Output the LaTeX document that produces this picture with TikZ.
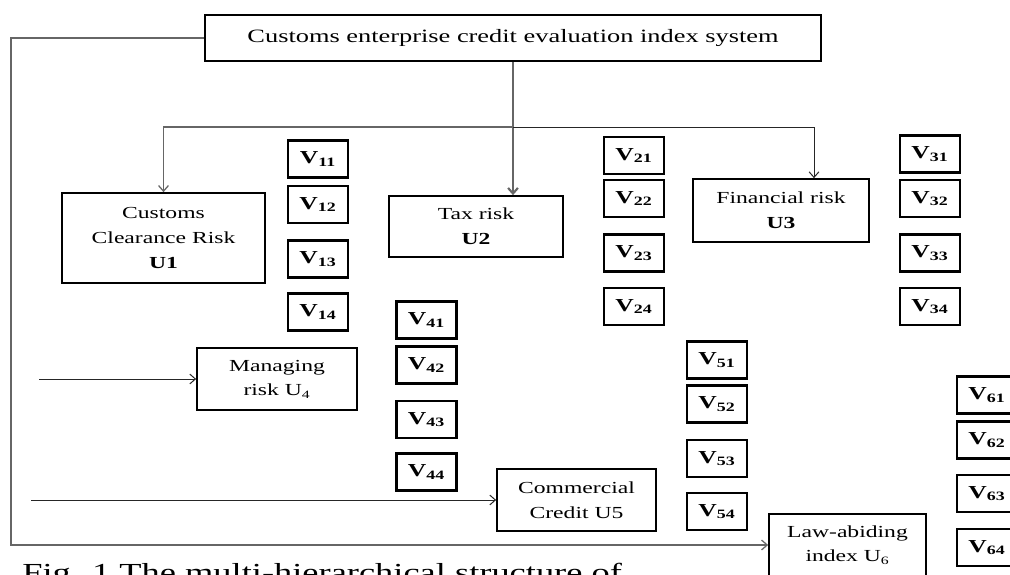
\documentclass[tikz,border=0pt]{standalone}
\usepackage{fontspec}
\setmainfont{Liberation Serif}[FakeStretch=1.4]
\usepackage{tikz}
\usetikzlibrary{arrows.meta}
\usetikzlibrary{calc}
\pgfdeclarelayer{nodelayer}
\pgfdeclarelayer{edgelayer}
\pgfsetlayers{edgelayer,nodelayer,main}
\tikzset{>={Straight Barb[length=4pt,width=7pt]}}
\tikzset{system/.style={draw, fill=white, rectangle, line width=1.3pt, inner sep=0pt,
minimum width=15.4cm, minimum height=1.15cm, font=\fontsize{13.4}{16}\selectfont}}
\tikzset{risk/.style={draw, fill=white, rectangle, line width=1.2pt, inner sep=0pt,
align=center, font=\fontsize{12}{17.5}\selectfont}}
\tikzset{leaf/.style={draw, fill=white, rectangle, line width=1.6pt, inner sep=0pt,
minimum width=1.5cm, minimum height=0.925cm, font=\fontsize{13}{15}\selectfont\bfseries}}
\tikzset{trunk/.style={draw=black!60, line width=0.9pt}}
\tikzset{branch/.style={draw=black!85, line width=0.7pt}}
\tikzset{caption/.style={anchor=base west, inner sep=0pt, font=\fontsize{18.5}{20}\selectfont}}

\begin{document}
\begin{tikzpicture}
	\useasboundingbox (0, 0) rectangle (25.25, -14.375);
	\begin{pgfonlayer}{nodelayer}
		\node [style=system] (0) at (12.825, -0.95) {Customs enterprise credit evaluation index system};
		\node [style=risk, minimum width=5.075cm, minimum height=2.25cm] (1) at (4.0875, -5.95) {Customs\\Clearance Risk\\\textbf{U1}};
		\node [style=risk, minimum width=4.35cm, minimum height=1.525cm] (2) at (11.9, -5.6625) {Tax risk\\\textbf{U2}};
		\node [style=risk, minimum width=4.4cm, minimum height=1.575cm] (3) at (19.525, -5.2625) {Financial risk\\\textbf{U3}};
		\node [style=risk, minimum width=4cm, minimum height=1.55cm] (4) at (6.925, -9.475) {Managing\\risk U\textsubscript{4}};
		\node [style=risk, minimum width=3.975cm, minimum height=1.55cm] (5) at (14.4125, -12.5) {Commercial\\Credit U5};
		\node [style=risk, minimum width=3.925cm, minimum height=1.55cm] (6) at (21.1875, -13.625) {Law-abiding\\index U\textsubscript{6}};
		\node [style=leaf] (7) at (7.95, -3.975) {V\textsubscript{11}};
		\node [style=leaf] (8) at (7.95, -5.1125) {V\textsubscript{12}};
		\node [style=leaf] (9) at (7.95, -6.475) {V\textsubscript{13}};
		\node [style=leaf] (10) at (7.95, -7.8) {V\textsubscript{14}};
		\node [style=leaf] (11) at (15.85, -3.8875) {V\textsubscript{21}};
		\node [style=leaf] (12) at (15.85, -4.9625) {V\textsubscript{22}};
		\node [style=leaf] (13) at (15.85, -6.325) {V\textsubscript{23}};
		\node [style=leaf] (14) at (15.85, -7.6625) {V\textsubscript{24}};
		\node [style=leaf] (15) at (23.25, -3.85) {V\textsubscript{31}};
		\node [style=leaf] (16) at (23.25, -4.9625) {V\textsubscript{32}};
		\node [style=leaf] (17) at (23.25, -6.325) {V\textsubscript{33}};
		\node [style=leaf] (18) at (23.25, -7.6625) {V\textsubscript{34}};
		\node [style=leaf] (19) at (10.6625, -8) {V\textsubscript{41}};
		\node [style=leaf] (20) at (10.6625, -9.125) {V\textsubscript{42}};
		\node [style=leaf] (21) at (10.6625, -10.4875) {V\textsubscript{43}};
		\node [style=leaf] (22) at (10.6625, -11.8) {V\textsubscript{44}};
		\node [style=leaf] (23) at (17.925, -9) {V\textsubscript{51}};
		\node [style=leaf] (24) at (17.925, -10.1) {V\textsubscript{52}};
		\node [style=leaf] (25) at (17.925, -11.4625) {V\textsubscript{53}};
		\node [style=leaf] (26) at (17.925, -12.7875) {V\textsubscript{54}};
		\node [style=leaf] (27) at (24.675, -9.875) {V\textsubscript{61}};
		\node [style=leaf] (28) at (24.675, -11) {V\textsubscript{62}};
		\node [style=leaf] (29) at (24.675, -12.3375) {V\textsubscript{63}};
		\node [style=leaf] (30) at (24.675, -13.6875) {V\textsubscript{64}};
		\node [style=caption] (37) at (0.55, -14.525) {Fig. 1 The multi-hierarchical structure of};
	\end{pgfonlayer}
	\begin{pgfonlayer}{edgelayer}
		\coordinate (31) at (12.825, -3.175);
		\coordinate (32) at (0.275, -0.95);
		\coordinate (33) at (0.275, -13.625);
		\coordinate (34) at (20.35, -3.175);
		\coordinate (35) at (0.975, -9.475);
		\coordinate (36) at (0.775, -12.5);
		\draw [style=trunk, ->] (0) -- (32) -- (33) -- (6);
		\draw [style=trunk, line width=1.5pt, ->] (0) -- (0 |- 2.north);
		\draw [style=trunk, ->] (31) -| (1);
		\draw [style=branch, ->] (31) -- (34) -- (34 |- 3.north);
		\draw [style=branch, ->] (35) -- (4);
		\draw [style=branch, ->] (36) -- (5);
	\end{pgfonlayer}
\end{tikzpicture}
\end{document}
